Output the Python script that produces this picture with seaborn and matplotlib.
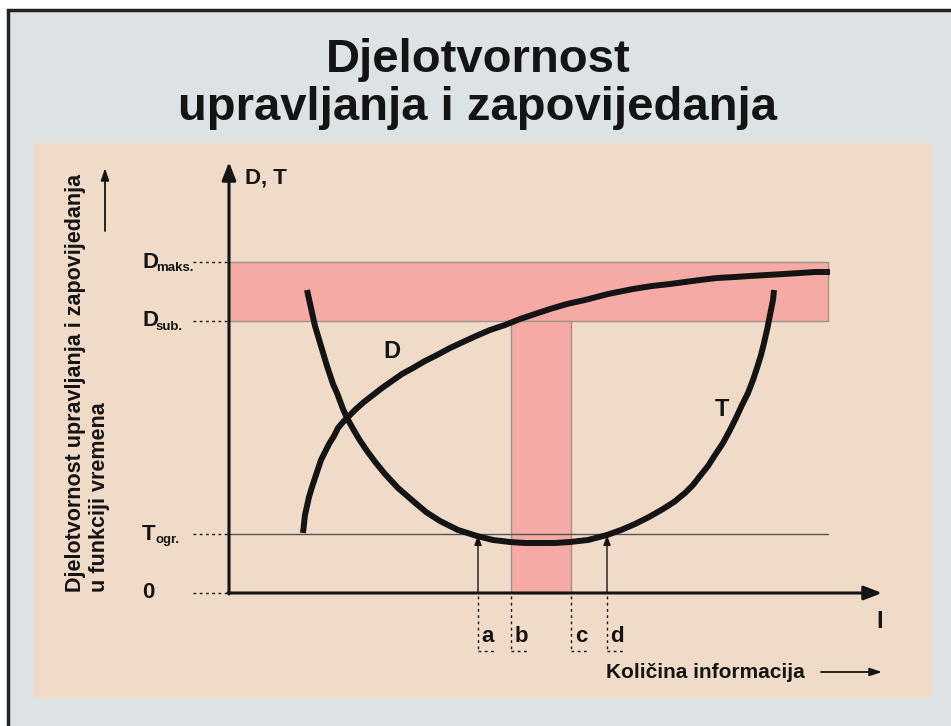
import matplotlib
matplotlib.use("Agg")
import matplotlib.pyplot as plt
import seaborn as sns
from matplotlib.patches import Rectangle

# chart values (pixel units of the schematic)
title_lines = ["Djelotvornost", "upravljanja i zapovijedanja"]
level_names = ["D", "D", "T", "0"]
level_subs = ["maks.", "sub.", "ogr.", ""]
level_y = [262, 321, 534, 593]
mark_names = ["a", "b", "c", "d"]
mark_x = [478, 511, 571, 607]

d_x = [303, 304, 305, 307, 309, 312, 315, 318, 321, 325, 329, 334, 338, 343, 349, 356,
       364, 373, 382, 392, 402, 413, 425, 437, 450, 463, 476, 490, 505, 520, 535, 550,
       567, 585, 608, 633, 652, 670, 685, 700, 717, 735, 750, 767, 784, 800, 815, 830]
d_y = [533, 524, 515, 506, 497, 487, 478, 469, 460, 452, 444, 436, 428, 422, 416, 409,
       402, 395, 388, 381, 374, 368, 361, 355, 348, 342, 336, 330, 325, 319, 314, 309,
       304, 300, 294, 289, 286, 284, 282, 280, 278, 277, 276, 275, 274, 273, 272, 272]
t_x = [307, 309, 311, 313, 315, 318, 321, 324, 327, 330, 333, 337, 340, 343, 347, 352,
       359, 367, 376, 385, 398, 413, 426, 440, 458, 477, 493, 510, 525, 540, 555, 570,
       588, 607, 621, 635, 649, 663, 674, 685, 693, 700, 708, 715, 723, 730, 736, 742,
       748, 753, 757, 761, 764, 767, 769, 771, 773, 774]
t_y = [290, 299, 308, 317, 326, 336, 346, 356, 366, 375, 384, 393, 401, 409, 418, 427,
       439, 451, 463, 474, 488, 501, 512, 521, 530, 536, 540, 542, 543, 543, 543, 542,
       540, 535, 530, 524, 517, 509, 502, 493, 485, 476, 466, 455, 443, 430, 418, 405,
       393, 380, 368, 355, 343, 330, 320, 310, 300, 290]

y_label_1 = "Djelotvornost upravljanja i zapovijedanja"
y_label_2 = "u funkciji vremena"
x_label = "Količina informacija"

sns.set_theme(style="white")
plt.rcParams["font.family"] = ["Liberation Sans", "DejaVu Sans"]

ink = "#141414"
pink = "#f6aaa5"
fig = plt.figure(figsize=(9.51, 7.26), dpi=100, facecolor="white")
ax = fig.add_axes([0, 0, 1, 1])
ax.set_xlim(0, 951)
ax.set_ylim(726, 0)
ax.axis("off")

# backgrounds
ax.add_patch(Rectangle((8, 10), 970, 740, facecolor="#dde3e5", edgecolor="#222222", lw=2.5))
ax.add_patch(Rectangle((33, 143), 899, 555, facecolor="#f0dbc9", edgecolor="none"))

x0, y0 = 229, level_y[3]
# pink bands
ax.add_patch(Rectangle((x0, level_y[0]), 828 - x0, level_y[1] - level_y[0],
                       facecolor=pink, edgecolor="#a39090", lw=1))
ax.add_patch(Rectangle((mark_x[1], level_y[1]), mark_x[2] - mark_x[1], y0 - level_y[1],
                       facecolor=pink, edgecolor="#a39090", lw=1))
ax.plot([x0, 828], [level_y[2], level_y[2]], color="#555555", lw=1)

# curves
for cx, cy in ((d_x, d_y), (t_x, t_y)):
    sns.lineplot(x=cx, y=cy, sort=False, estimator=None, color=ink, lw=4.3, ax=ax,
                 solid_joinstyle="round", solid_capstyle="butt")

# axes with arrows
arr = dict(arrowstyle="-|>,head_length=0.9,head_width=0.35", color=ink, lw=2.2,
           shrinkA=0, shrinkB=0)
ax.annotate("", xy=(x0, 162), xytext=(x0, y0 + 1), arrowprops=arr)
ax.annotate("", xy=(882, y0), xytext=(x0 - 1, y0), arrowprops=arr)

# level labels and dotted leaders
for name, sub, y in zip(level_names, level_subs, level_y):
    ax.text(142, y, name, fontsize=16, fontweight="bold", color=ink, ha="left", va="center")
    if sub:
        ax.text(156, y + 6, sub, fontsize=9.5, fontweight="bold", color=ink, ha="left", va="center")
    ax.plot([193, x0], [y, y], color=ink, lw=1, ls=(0, (2, 2.5)))

# small arrows at the T / T_ogr crossings
small = dict(arrowstyle="-|>,head_length=0.5,head_width=0.18", color=ink, lw=1,
             shrinkA=0, shrinkB=0)
for xm in (mark_x[0], mark_x[3]):
    ax.annotate("", xy=(xm, level_y[2] + 1), xytext=(xm, y0), arrowprops=small)

# dotted drops with letters
for name, xm in zip(mark_names, mark_x):
    ax.plot([xm, xm], [y0 + 3, 651], color=ink, lw=1, ls=(0, (2, 2.5)))
    ax.plot([xm, xm + 18], [651, 651], color=ink, lw=1, ls=(0, (2, 2.5)))
    ax.text(xm + 10, 637, name, fontsize=16, fontweight="bold", color=ink, ha="center", va="center")

# texts
ax.text(478, 60, title_lines[0], fontsize=34, fontweight="bold", color=ink, ha="center", va="center")
ax.text(478, 108, title_lines[1], fontsize=34, fontweight="bold", color=ink, ha="center", va="center")
ax.text(245, 178, "D, T", fontsize=16, fontweight="bold", color=ink, ha="left", va="center")
ax.text(392, 352, "D", fontsize=17, fontweight="bold", color=ink, ha="center", va="center")
ax.text(722, 410, "T", fontsize=17, fontweight="bold", color=ink, ha="center", va="center")
ax.text(880, 621, "I", fontsize=17, fontweight="bold", color=ink, ha="center", va="center")
ax.text(76, 592, y_label_1, fontsize=15.5, fontweight="bold", color=ink, rotation=90,
        rotation_mode="anchor", ha="left", va="center")
ax.text(99, 592, y_label_2, fontsize=15.5, fontweight="bold", color=ink, rotation=90,
        rotation_mode="anchor", ha="left", va="center")
ax.annotate("", xy=(105, 168), xytext=(105, 231),
            arrowprops=dict(arrowstyle="-|>,head_length=0.6,head_width=0.2", color=ink, lw=1.3,
                            shrinkA=0, shrinkB=0))
ax.text(705, 672, x_label, fontsize=15, fontweight="bold", color=ink, ha="center", va="center")
ax.annotate("", xy=(882, 672), xytext=(821, 672),
            arrowprops=dict(arrowstyle="-|>,head_length=0.6,head_width=0.2", color=ink, lw=1.3,
                            shrinkA=0, shrinkB=0))

fig.savefig("out.png", dpi=100, facecolor=fig.get_facecolor())
